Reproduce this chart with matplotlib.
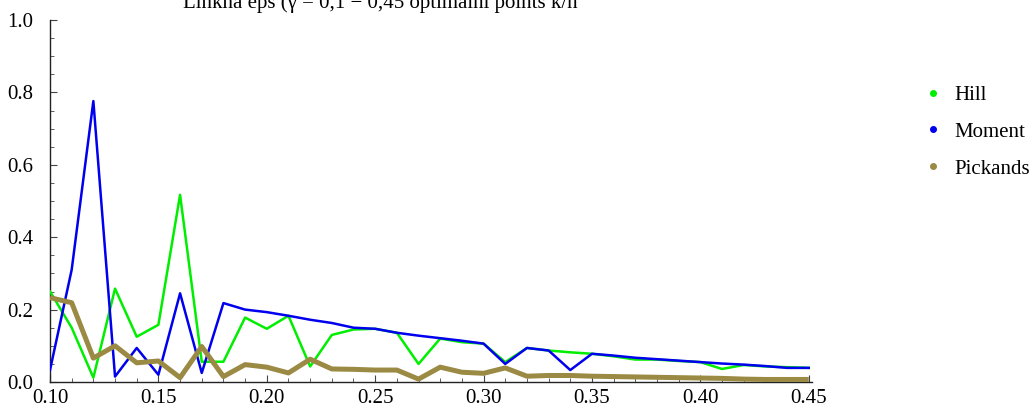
import matplotlib
matplotlib.use("Agg")
import matplotlib.pyplot as plt
from matplotlib.ticker import MultipleLocator, FormatStrFormatter
from matplotlib.lines import Line2D

plt.rcParams['font.family'] = ['Liberation Serif', 'DejaVu Serif']

gamma = [0.10, 0.11, 0.12, 0.13, 0.14, 0.15, 0.16, 0.17, 0.18, 0.19,
         0.20, 0.21, 0.22, 0.23, 0.24, 0.25, 0.26, 0.27, 0.28, 0.29,
         0.30, 0.31, 0.32, 0.33, 0.34, 0.35, 0.36, 0.37, 0.38, 0.39,
         0.40, 0.41, 0.42, 0.43, 0.44, 0.45]

hill = [0.250, 0.150, 0.012, 0.258, 0.125, 0.158, 0.517, 0.056, 0.056, 0.178,
        0.147, 0.183, 0.043, 0.130, 0.145, 0.147, 0.136, 0.050, 0.120, 0.110,
        0.106, 0.055, 0.094, 0.087, 0.082, 0.078, 0.071, 0.062, 0.062, 0.058,
        0.055, 0.036, 0.047, 0.043, 0.041, 0.039]

moment = [0.033, 0.310, 0.776, 0.015, 0.094, 0.020, 0.245, 0.025, 0.218, 0.200,
          0.193, 0.183, 0.172, 0.163, 0.150, 0.147, 0.136, 0.128, 0.121, 0.114,
          0.106, 0.050, 0.094, 0.087, 0.033, 0.078, 0.073, 0.067, 0.063, 0.059,
          0.055, 0.051, 0.048, 0.044, 0.039, 0.039]

pickands = [0.233, 0.219, 0.066, 0.100, 0.053, 0.058, 0.012, 0.098, 0.015, 0.048,
            0.041, 0.025, 0.063, 0.036, 0.035, 0.033, 0.033, 0.008, 0.041, 0.027,
            0.024, 0.039, 0.016, 0.018, 0.018, 0.016, 0.015, 0.014, 0.013, 0.012,
            0.011, 0.010, 0.008, 0.007, 0.007, 0.007]

series_names = ["Hill", "Moment", "Pickands"]
colors = ["#00ee00", "#0000ee", "#9b8a44"]
title = "Linkha eps (γ = 0,1 − 0,45 optimalni points k/n"

fig = plt.figure(figsize=(10.29, 4.09), dpi=100)
ax = fig.add_axes([50/1029, 1-382/409, (812-50)/1029, (382-20)/409])

ax.plot(gamma, hill, color=colors[0], lw=1.8, zorder=3)
ax.plot(gamma, moment, color=colors[1], lw=1.8, zorder=4)
ax.plot(gamma, pickands, color=colors[2], lw=3.6, zorder=5, solid_capstyle='butt')

ax.set_xlim(0.10, 0.4515)
ax.set_ylim(0.0, 1.0)
for s in ['top', 'right']:
    ax.spines[s].set_visible(False)
for s in ['left', 'bottom']:
    ax.spines[s].set_linewidth(1.0)
    ax.spines[s].set_color('#222222')

ax.xaxis.set_major_locator(MultipleLocator(0.05))
ax.xaxis.set_minor_locator(MultipleLocator(0.01))
ax.yaxis.set_major_locator(MultipleLocator(0.2))
ax.yaxis.set_minor_locator(MultipleLocator(0.05))
ax.xaxis.set_major_formatter(FormatStrFormatter('%.2f'))
ax.yaxis.set_major_formatter(FormatStrFormatter('%.1f'))
ax.tick_params(which='major', direction='in', length=5, width=0.8, labelsize=15, color='#444444')
ax.tick_params(which='minor', direction='in', length=3, width=0.6, color='#444444')
ax.tick_params(axis='x', which='major', pad=5)
ax.tick_params(axis='y', which='major', pad=12)

handles = [Line2D([], [], ls='none', marker='o', ms=4, color=c) for c in colors]
fig.legend(handles, series_names, loc='upper left', bbox_to_anchor=(918/1029, 1-77/409),
           frameon=False, fontsize=15, handlelength=0.6, handletextpad=0.75,
           labelspacing=0.83, borderaxespad=0)

fig.text(380/1029, 1-8/409, title, ha='center', va='baseline', fontsize=15)

fig.savefig("out.png", dpi=100)
